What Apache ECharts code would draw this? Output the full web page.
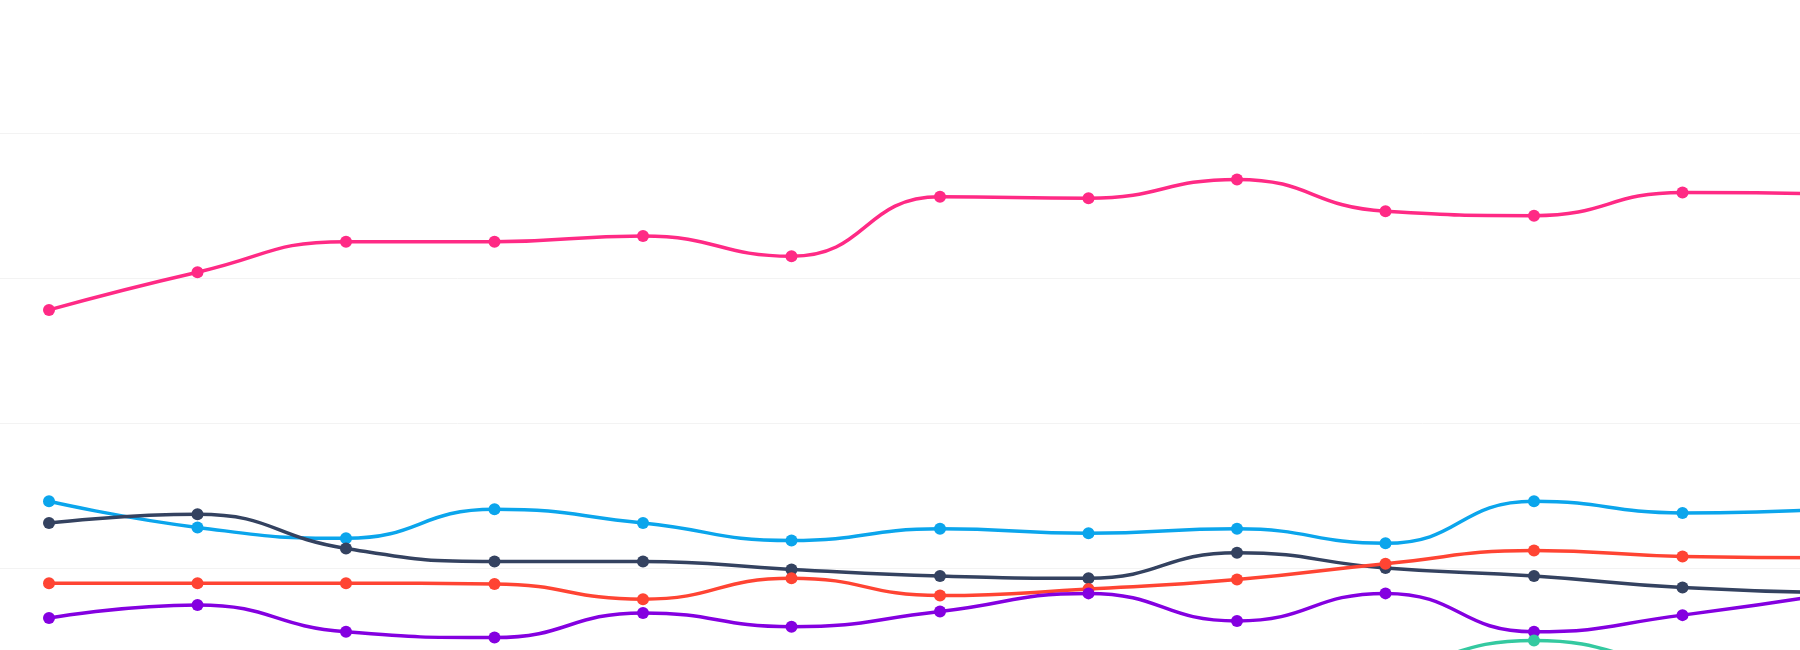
<!DOCTYPE html>
<html>
<head>
<meta charset="utf-8">
<title>line chart</title>
<script src="https://cdn.jsdelivr.net/npm/echarts@6/dist/echarts.min.js"></script>
<style>
  html, body { margin: 0; padding: 0; background: #fff; }
  /* the picture is a crop of a wider chart: the plot runs past the right and bottom edges */
  #frame { position: relative; width: 1800px; height: 650px; overflow: hidden; }
  #chart { position: absolute; left: -40px; top: 0; width: 2000px; height: 760px; }
</style>
</head>
<body>
<div id="frame"><div id="chart"></div></div>
<script>
// categories (no labels are visible in the crop)
let categories = ['2011', '2012', '2013', '2014', '2015', '2016', '2017', '2018', '2019', '2020', '2021', '2022', '2023'];

// y axis: 4 visible grid lines
let yMin = 0;
let yMax = 40;
let yStep = 10;

// series values
let pinkData   = [27.8, 30.4, 32.5, 32.5, 32.9, 31.5, 35.6, 35.5, 36.8, 34.6, 34.3, 35.9, 35.8];
let cyanData   = [14.6, 12.8, 12.05, 14.05, 13.1, 11.9, 12.7, 12.4, 12.7, 11.7, 14.6, 13.8, 14.05];
let navyData   = [13.1, 13.7, 11.35, 10.45, 10.45, 9.9, 9.45, 9.3, 11.05, 10.0, 9.45, 8.65, 8.3];
let redData    = [8.95, 8.95, 8.95, 8.9, 7.85, 9.3, 8.1, 8.55, 9.2, 10.3, 11.2, 10.8, 10.7];
let purpleData = [6.55, 7.45, 5.6, 5.2, 6.9, 5.95, 7.0, 8.25, 6.35, 8.25, 5.6, 6.75, 8.2];
let greenData  = [1.8, 2.2, 1.6, 1.4, 2.0, 1.7, 2.3, 2.6, 2.1, 3.0, 5.0, 3.2, 2.6];

let seriesNames  = ['A', 'B', 'C', 'D', 'E', 'F'];
let seriesData   = [pinkData, cyanData, navyData, redData, purpleData, greenData];
let seriesColors = ['#ff2a85', '#0ba5ec', '#344260', '#ff4433', '#8400e0', '#34c9a0'];

let myChart = echarts.init(document.getElementById('chart'));

let option = {
  animation: false,
  grid: { left: 14.75, right: 54.75, top: 133, bottom: 47 },
  xAxis: {
    type: 'category',
    data: categories,
    boundaryGap: true,
    axisLine: { show: false },
    axisTick: { show: false },
    axisLabel: { show: false },
    splitLine: { show: false }
  },
  yAxis: {
    type: 'value',
    min: yMin,
    max: yMax,
    interval: yStep,
    axisLine: { show: false },
    axisTick: { show: false },
    axisLabel: { show: false },
    splitLine: { lineStyle: { color: '#f3f3f3', width: 1 } }
  },
  series: seriesData.map(function (d, i) {
    return {
      name: seriesNames[i],
      type: 'line',
      data: d,
      smooth: true,
      symbol: 'circle',
      symbolSize: 12,
      clip: false,
      lineStyle: { width: 3.5, color: seriesColors[i] },
      itemStyle: { color: seriesColors[i], borderWidth: 0 }
    };
  })
};

myChart.setOption(option);
</script>
</body>
</html>
